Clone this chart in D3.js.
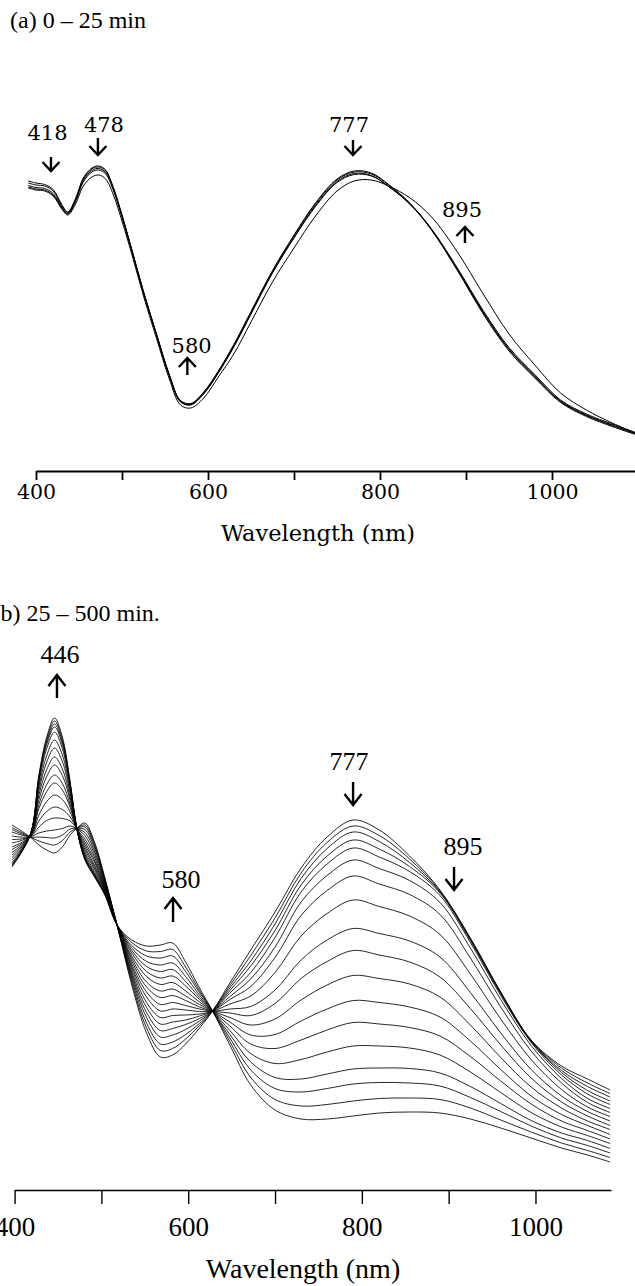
<!DOCTYPE html>
<html><head><meta charset="utf-8">
<script src="https://cdn.jsdelivr.net/npm/d3@7"></script>
<style>html,body{margin:0;padding:0;background:#fff;overflow:hidden}</style>
</head><body>
<svg id="chart" width="635" height="1286"></svg>
<script>
// ---------- Panel (a): 0 - 25 min ----------
const titleA = "(a) 0 – 25 min";
const wavelengthsA = [391,400,410,420,430,437,446,455,465,473,481,490,500,512,525,540,555,568,580,595,612,630,650,675,700,725,750,770,790,810,835,860,890,920,950,980,1010,1040,1070,1097];
const specA0 = [.582,.578,.575,.565,.535,.520,.547,.588,.608,.612,.604,.569,.514,.441,.361,.277,.195,.143,.137,.160,.202,.255,.321,.403,.474,.538,.586,.602,.598,.575,.537,.484,.403,.316,.242,.188,.139,.111,.091,.075];
const specA1 = [.578,.574,.572,.562,.533,.519,.545,.586,.606,.610,.602,.567,.513,.441,.360,.276,.194,.142,.136,.159,.201,.253,.319,.401,.472,.536,.584,.600,.596,.574,.537,.485,.405,.319,.245,.191,.141,.113,.093,.077];
const specA2 = [.573,.569,.567,.557,.530,.517,.543,.583,.603,.607,.599,.565,.511,.439,.359,.275,.193,.141,.135,.157,.199,.251,.317,.399,.469,.533,.581,.597,.593,.571,.535,.484,.405,.320,.246,.192,.142,.114,.094,.077];
const specA3 = [.570,.566,.564,.554,.528,.516,.541,.580,.600,.604,.596,.563,.510,.438,.358,.274,.192,.140,.134,.156,.198,.250,.316,.398,.468,.531,.579,.595,.592,.571,.536,.486,.408,.323,.249,.195,.144,.116,.096,.079];
const specA4 = [.568,.564,.562,.552,.526,.514,.536,.572,.590,.594,.586,.554,.502,.432,.352,.268,.186,.134,.128,.148,.190,.236,.300,.380,.448,.512,.562,.582,.584,.572,.548,.510,.440,.356,.276,.214,.158,.124,.098,.078];
const spectraA = [specA0, specA1, specA2, specA3, specA4];
const annotA = [
  {text:"418", labelWl:413.4, arrowWl:417.4, labelA:.664, from:.630, to:.602, dir:"down"},
  {text:"478", labelWl:479.0, arrowWl:472.0, labelA:.680, from:.668, to:.634, dir:"down"},
  {text:"777", labelWl:764.0, arrowWl:768.6, labelA:.680, from:.664, to:.634, dir:"down"},
  {text:"895", labelWl:895.3, arrowWl:898.8, labelA:.510, from:.458, to:.490, dir:"up"},
  {text:"580", labelWl:581.0, arrowWl:576.0, labelA:.238, from:.194, to:.228, dir:"up"}
];

// ---------- Panel (b): 25 - 500 min ----------
const titleB = "(b) 25 – 500 min.";
const wavelengthsB = [397,418,428,437,446,455,464,472,481,492,504,518,535,552,568,582,597,613,628,648,672,700,730,760,790,820,855,890,925,960,995,1030,1060,1086];
const specB00 = [.730,.706,.690,.680,.674,.686,.710,.724,.734,.696,.624,.530,.410,.314,.266,.270,.292,.324,.358,.414,.480,.556,.644,.706,.740,.720,.668,.600,.504,.396,.300,.248,.222,.200];
const specB01 = [.725,.706,.698,.693,.690,.699,.716,.724,.730,.692,.622,.530,.415,.324,.279,.283,.302,.329,.358,.409,.469,.544,.634,.695,.728,.709,.662,.598,.503,.395,.299,.244,.214,.193];
const specB02 = [.721,.706,.706,.705,.704,.710,.722,.724,.726,.688,.620,.530,.421,.334,.292,.296,.311,.333,.358,.404,.458,.532,.623,.683,.716,.697,.655,.596,.501,.394,.298,.239,.207,.186];
const specB03 = [.716,.707,.714,.718,.720,.723,.728,.723,.721,.684,.618,.530,.426,.345,.306,.310,.321,.338,.358,.399,.448,.519,.610,.668,.700,.682,.647,.594,.499,.392,.297,.235,.199,.178];
const specB04 = [.708,.707,.726,.739,.744,.743,.738,.723,.715,.678,.615,.530,.431,.355,.319,.323,.331,.343,.358,.394,.435,.505,.596,.652,.684,.666,.637,.589,.495,.389,.295,.230,.192,.171];
const specB05 = [.701,.707,.738,.757,.766,.761,.746,.723,.709,.672,.612,.530,.436,.365,.332,.336,.340,.348,.358,.387,.422,.486,.576,.629,.660,.643,.619,.575,.484,.381,.289,.223,.183,.163];
const specB06 = [.694,.708,.750,.777,.790,.781,.756,.722,.702,.666,.609,.530,.442,.375,.345,.349,.350,.352,.358,.381,.407,.465,.549,.599,.628,.612,.591,.551,.464,.366,.278,.214,.175,.155];
const specB07 = [.686,.708,.763,.797,.814,.800,.765,.722,.696,.660,.606,.530,.447,.386,.358,.362,.360,.357,.358,.372,.388,.435,.508,.553,.580,.567,.548,.511,.432,.342,.261,.201,.166,.147];
const specB08 = [.681,.708,.771,.811,.830,.813,.771,.722,.691,.656,.604,.530,.452,.396,.371,.375,.369,.362,.358,.362,.367,.400,.460,.500,.523,.513,.498,.466,.395,.314,.241,.188,.157,.138];
const specB09 = [.675,.709,.781,.827,.850,.829,.779,.721,.686,.650,.602,.530,.458,.406,.385,.389,.379,.366,.358,.354,.349,.373,.423,.457,.479,.470,.456,.426,.363,.290,.224,.176,.148,.129];
const specB10 = [.670,.709,.790,.841,.866,.842,.785,.721,.681,.646,.600,.530,.463,.416,.398,.402,.388,.371,.358,.345,.330,.342,.380,.410,.429,.423,.412,.386,.330,.265,.206,.164,.138,.121];
const specB11 = [.665,.709,.799,.856,.884,.857,.793,.721,.676,.642,.598,.530,.468,.427,.411,.415,.398,.376,.358,.336,.310,.311,.338,.362,.379,.375,.366,.346,.298,.241,.188,.151,.129,.111];
const specB12 = [.660,.709,.807,.869,.900,.870,.799,.721,.672,.637,.596,.530,.474,.437,.424,.428,.408,.381,.358,.328,.292,.283,.300,.320,.335,.332,.325,.308,.267,.218,.172,.138,.119,.102];
const specB13 = [.655,.710,.815,.883,.916,.883,.805,.720,.668,.633,.594,.530,.479,.447,.437,.441,.417,.385,.358,.319,.273,.253,.261,.276,.288,.288,.284,.270,.236,.195,.155,.126,.109,.093];
const specB14 = [.652,.710,.821,.891,.926,.891,.809,.720,.665,.631,.592,.530,.484,.457,.450,.454,.427,.390,.358,.311,.256,.225,.222,.232,.242,.244,.243,.234,.207,.173,.139,.114,.099,.083];
const specB15 = [.650,.710,.824,.896,.932,.896,.811,.720,.663,.629,.592,.530,.489,.468,.464,.468,.437,.395,.358,.304,.240,.203,.196,.203,.212,.215,.214,.208,.185,.157,.128,.104,.089,.074];
const specB16 = [.648,.710,.827,.901,.938,.901,.814,.720,.662,.628,.591,.530,.495,.478,.477,.481,.446,.399,.358,.297,.225,.181,.168,.171,.178,.183,.184,.181,.164,.140,.116,.094,.079,.065];
const specB17 = [.646,.710,.830,.906,.944,.906,.816,.720,.660,.626,.590,.530,.500,.488,.490,.494,.456,.404,.358,.290,.210,.160,.142,.142,.148,.154,.156,.154,.142,.124,.104,.084,.070,.056];
const spectraB = [specB00,specB01,specB02,specB03,specB04,specB05,specB06,specB07,specB08,specB09,specB10,specB11,specB12,specB13,specB14,specB15,specB16,specB17];
const annotB = [
  {text:"446", labelWl:452.3, arrowWl:448.8, labelA:1.054, from:.984, to:1.030, dir:"up"},
  {text:"777", labelWl:785.2, arrowWl:789.9, labelA:.840, from:.816, to:.770, dir:"down"},
  {text:"895", labelWl:916.6, arrowWl:906.2, labelA:.670, from:.646, to:.600, dir:"down"},
  {text:"580", labelWl:591.7, arrowWl:582.5, labelA:.604, from:.536, to:.584, dir:"up"}
];

// ---------- shared axis ticks ----------
const tickValuesA = [400,500,600,700,800,900,1000,1100];
const tickValuesB = [400,500,600,700,800,900,1000];
const tickLabels = {400:"400",600:"600",800:"800",1000:"1000"};
const axisTitle = "Wavelength (nm)";

const svg = d3.select("#chart");
svg.append("rect").attr("width",635).attr("height",1286).attr("fill","#fff");

function drawPanel(cfg){
  const g = svg.append("g");
  const x = d3.scaleLinear().domain(cfg.xDomain).range(cfg.xRange);
  const y = d3.scaleLinear().domain([0,1]).range(cfg.yRange);
  const line = d3.line()
    .x((d,i)=>x(cfg.wl[i]))
    .y(d=>y(d))
    .curve(d3.curveCatmullRom.alpha(0.5));
  g.append("g").selectAll("path").data(cfg.spectra).join("path")
    .attr("d", line)
    .attr("fill","none")
    .attr("stroke","#000")
    .attr("stroke-width", cfg.lineWidth);

  // axis
  const ax = g.append("g").attr("transform",`translate(0,${cfg.axisY})`)
    .call(d3.axisBottom(x).tickValues(cfg.ticks).tickFormat(d=>tickLabels[d]||"")
      .tickSize(cfg.tickSize).tickSizeOuter(0));
  ax.select(".domain").attr("stroke","#000").attr("stroke-width",cfg.axisWidth);
  ax.selectAll(".tick line").attr("stroke","#000").attr("stroke-width",cfg.axisWidth);
  ax.selectAll(".tick text")
    .attr("y", cfg.labelOffset).attr("dy",0)
    .attr("fill","#000")
    .style("font-family", cfg.tickFont).style("font-size", cfg.tickSizePx+"px");

  g.append("text").attr("x", cfg.xTitleX).attr("y", cfg.xTitleY)
    .attr("text-anchor","middle")
    .style("font-family", cfg.tickFont).style("font-size", cfg.xTitleSize+"px")
    .text(axisTitle);

  g.append("text").attr("x", cfg.titleX).attr("y", cfg.titleY)
    .style("font-family","'Liberation Serif','Times New Roman',serif")
    .style("font-size", cfg.titleSize+"px")
    .text(cfg.title);

  // annotations
  const an = g.append("g");
  cfg.annot.forEach(a=>{
    an.append("text").attr("x", x(a.labelWl)).attr("y", y(a.labelA))
      .attr("text-anchor","middle")
      .style("font-family", cfg.annFont).style("font-size", cfg.annSize+"px")
      .text(a.text);
    const ax0 = x(a.arrowWl), y1 = y(a.from), y2 = y(a.to);
    const s = a.dir==="down" ? -1 : 1; // tip at y2
    an.append("path")
      .attr("d", `M${ax0},${y1}L${ax0},${y2}M${ax0-cfg.headW},${y2 + s*cfg.headH}L${ax0},${y2}L${ax0+cfg.headW},${y2 + s*cfg.headH}`)
      .attr("fill","none").attr("stroke","#000").attr("stroke-width",cfg.arrowWidth)
      .attr("stroke-linejoin","miter");
  });
}

drawPanel({
  wl: wavelengthsA, spectra: spectraA, annot: annotA, title: titleA,
  xDomain:[400,1100], xRange:[36,638], yRange:[472,-28],
  axisY:471, ticks: tickValuesA, tickSize:9, axisWidth:1.8, labelOffset:28,
  tickFont:"'DejaVu Serif',serif", tickSizePx:20.5,
  xTitleX:318, xTitleY:541, xTitleSize:22.5,
  titleX:10, titleY:28, titleSize:24,
  annFont:"'DejaVu Serif',serif", annSize:21,
  headW:8.5, headH:9, arrowWidth:2.4, lineWidth:1.0
});

drawPanel({
  wl: wavelengthsB, spectra: spectraB, annot: annotB, title: titleB,
  xDomain:[400,1087], xRange:[14.6,611], yRange:[1190,690],
  axisY:1190, ticks: tickValuesB, tickSize:14, axisWidth:1.4, labelOffset:46,
  tickFont:"'Liberation Serif','Times New Roman',serif", tickSizePx:27,
  xTitleX:303, xTitleY:1278, xTitleSize:28,
  titleX:-7.5, titleY:621, titleSize:24,
  annFont:"'Liberation Serif','Times New Roman',serif", annSize:26,
  headW:8.5, headH:11, arrowWidth:2.4, lineWidth:0.85
});
</script>
</body></html>
